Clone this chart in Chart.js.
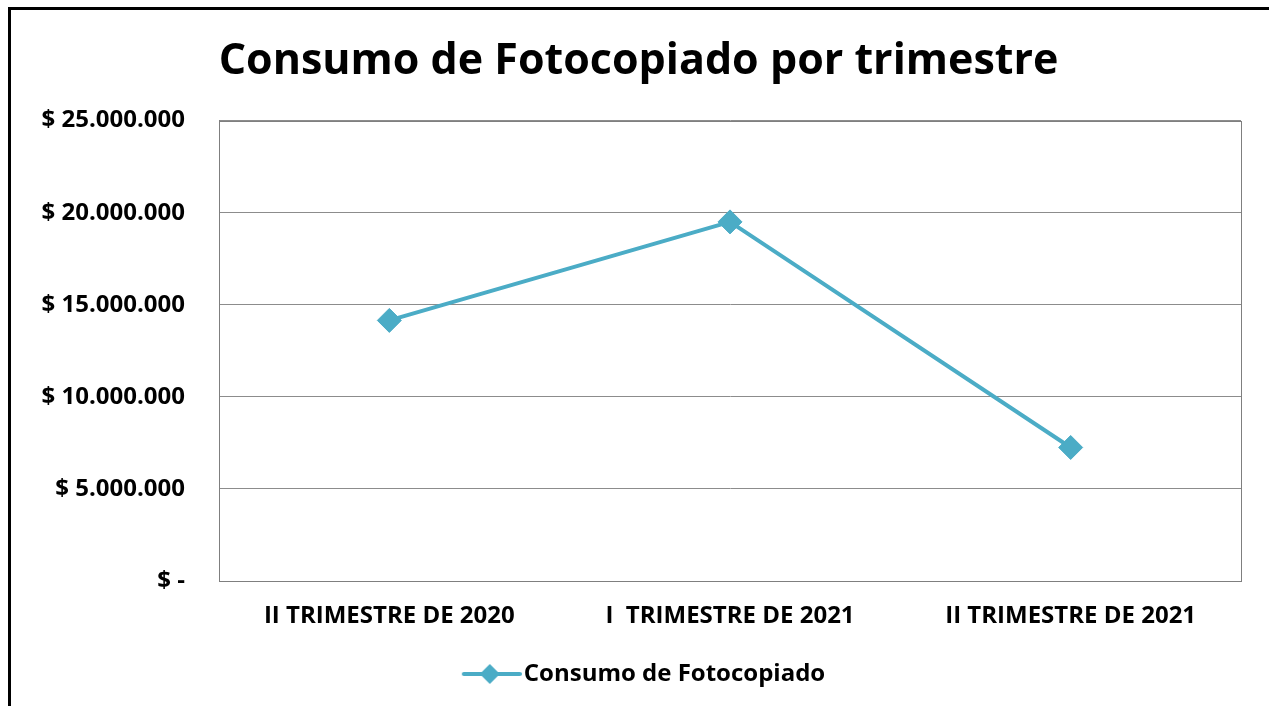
<!DOCTYPE html>
<html>
<head>
<meta charset="utf-8">
<script src="https://cdn.jsdelivr.net/npm/chart.js@4.4.1/dist/chart.umd.min.js"></script>
<style>
  html, body { margin: 0; padding: 0; background: #fff; }
  #wrap { position: relative; width: 1269px; height: 706px; }
</style>
</head>
<body>
<div id="wrap"><canvas id="c" width="1269" height="706"></canvas></div>
<script>
const categories = ['II TRIMESTRE DE 2020', 'I  TRIMESTRE DE 2021', 'II TRIMESTRE DE 2021'];
const seriesName = 'Consumo de Fotocopiado';
const consumo = [14150000, 19500000, 7250000];
const yTicks = [0, 5000000, 10000000, 15000000, 20000000, 25000000];
const titleText = 'Consumo de Fotocopiado por trimestre';

const COLOR = '#4BACC6';
const FONT = '"Open Sans", Lato, sans-serif';

function fmt(v) {
  if (v === 0) return '$ -';
  return '$ ' + Math.round(v).toString().replace(/\B(?=(\d{3})+(?!\d))/g, '.');
}

// legend sample: line with diamond (drawn in the right part of the image)
const sample = document.createElement('canvas');
sample.width = 80; sample.height = 26;
(function(){
  const g = sample.getContext('2d');
  g.strokeStyle = COLOR; g.lineWidth = 4; g.lineCap = 'round';
  g.beginPath(); g.moveTo(22, 13); g.lineTo(78, 13); g.stroke();
  g.fillStyle = COLOR;
  g.beginPath(); g.moveTo(48, 3); g.lineTo(58, 13); g.lineTo(48, 23); g.lineTo(38, 13); g.closePath(); g.fill();
})();

const framePlugin = {
  id: 'frame',
  beforeDraw(chart) {
    const ctx = chart.ctx;
    ctx.save();
    ctx.fillStyle = '#fff';
    ctx.fillRect(0, 0, chart.width, chart.height);
    ctx.strokeStyle = '#000';
    ctx.lineWidth = 3;
    ctx.strokeRect(9.5, 8.5, 2000, 2000);
    ctx.restore();
  },
  beforeDatasetsDraw(chart) {
    const a = chart.chartArea, ctx = chart.ctx;
    ctx.save();
    ctx.strokeStyle = '#7f7f7f';
    ctx.lineWidth = 1;
    ctx.strokeRect(Math.round(a.left) + 0.5, Math.round(a.top) + 0.5, Math.round(a.right - a.left), Math.round(a.bottom - a.top));
    ctx.restore();
  }
};

new Chart(document.getElementById('c'), {
  type: 'line',
  data: {
    labels: categories,
    datasets: [{
      label: seriesName,
      data: consumo,
      borderColor: COLOR,
      backgroundColor: COLOR,
      borderWidth: 4,
      pointStyle: 'rectRot',
      pointRadius: 12,
      pointBorderWidth: 1,
      pointBackgroundColor: COLOR,
      pointBorderColor: COLOR,
      tension: 0,
      fill: false
    }]
  },
  options: {
    responsive: false,
    animation: false,
    devicePixelRatio: 1,
    layout: { padding: { left: 36, right: 28, top: 0, bottom: 10 } },
    plugins: {
      title: {
        display: true,
        text: titleText,
        color: '#000',
        font: { family: FONT, size: 43, weight: 'bold' },
        padding: { top: 36, bottom: 33 }
      },
      legend: {
        display: true,
        position: 'bottom',
        labels: {
          color: '#000',
          font: { family: FONT, size: 24, weight: 'bold' },
          usePointStyle: true,
          pointStyleWidth: 60,
          padding: 10,
          generateLabels(chart) {
            return chart.data.datasets.map((ds, i) => ({
              text: ds.label,
              fillStyle: COLOR,
              strokeStyle: COLOR,
              lineWidth: 0,
              pointStyle: sample,
              hidden: false,
              datasetIndex: i,
              fontColor: '#000'
            }));
          }
        }
      },
      tooltip: { enabled: false }
    },
    scales: {
      x: {
        offset: true,
        grid: { display: false, drawTicks: false },
        border: { display: true, color: '#7f7f7f' },
        ticks: {
          color: '#000',
          font: { family: FONT, size: 24, weight: 'bold' },
          padding: 21,
          maxRotation: 0,
          autoSkip: false
        },
        afterFit(s) { s.height = 71; }
      },
      y: {
        min: 0,
        max: 25000000,
        afterBuildTicks(s) { s.ticks = yTicks.map(v => ({ value: v })); },
        grid: { color: '#8c8c8c', lineWidth: 1, drawTicks: false },
        border: { display: true, color: '#7f7f7f' },
        ticks: {
          color: '#000',
          font: { family: FONT, size: 24, weight: 'bold' },
          padding: 34,
          callback: (v) => fmt(v)
        },
        afterFit(s) { s.width = 183; }
      }
    }
  },
  plugins: [framePlugin]
});
</script>
</body>
</html>
